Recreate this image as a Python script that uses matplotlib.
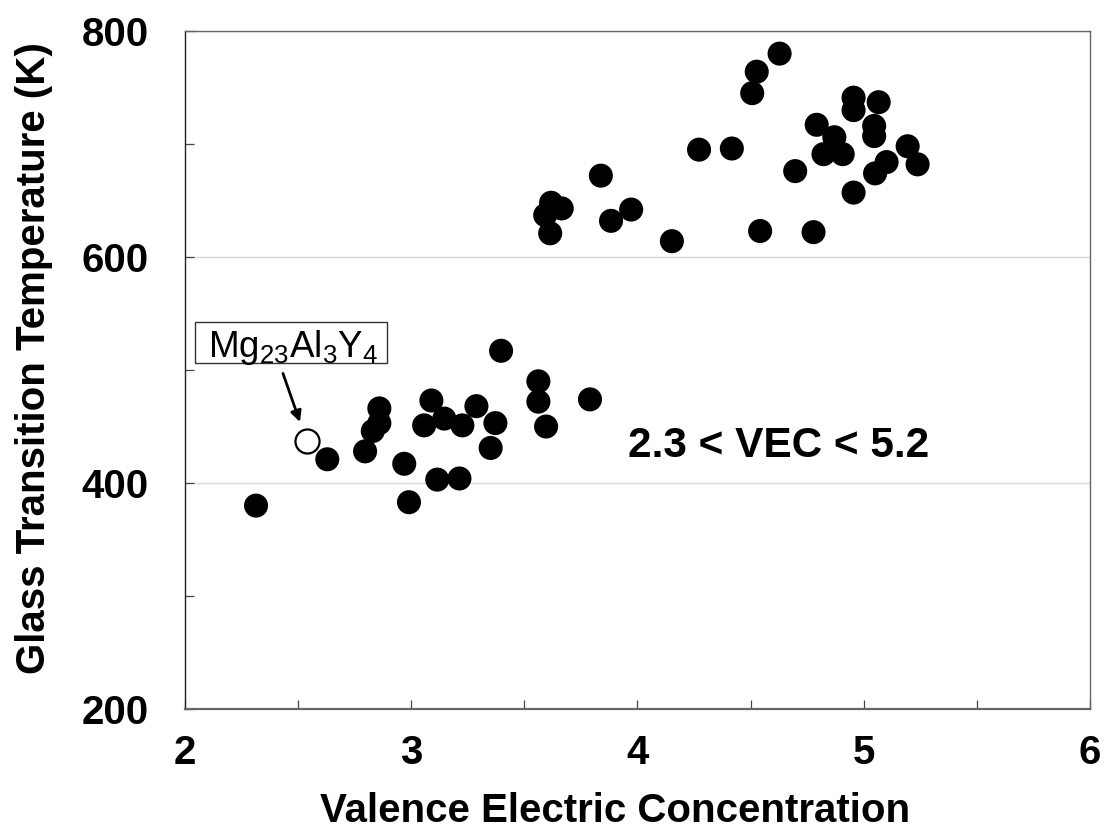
import matplotlib
matplotlib.use("Agg")
import matplotlib.pyplot as plt
from matplotlib.ticker import MultipleLocator
from matplotlib.patches import Rectangle

plt.rcParams['font.family'] = ['Liberation Sans', 'DejaVu Sans']
plt.rcParams['mathtext.default'] = 'regular'

# Filled points: valence electron concentration vs glass transition temperature (K)
vec = [2.314, 2.629, 2.796, 2.830, 2.859, 2.859, 2.969, 2.990, 3.057, 3.089,
       3.115, 3.146, 3.213, 3.226, 3.288, 3.351, 3.372, 3.397, 3.562, 3.562,
       3.596, 3.790,
       3.592, 3.618, 3.665, 3.614, 3.838, 3.883, 3.972, 4.152, 4.272, 4.417,
       4.507, 4.527, 4.628, 4.542, 4.697, 4.778, 4.792, 4.822, 4.870, 4.907,
       4.955, 4.955, 4.955, 5.046, 5.046, 5.050, 5.066, 5.101, 5.194, 5.238]
tg = [380, 421, 428, 446, 453, 466, 417, 383, 451, 473,
      403, 457, 404, 451, 468, 431, 453, 517, 490, 472,
      450, 474,
      637, 648, 643, 621, 672, 632, 642, 614, 695, 696,
      745, 764, 780, 623, 676, 622, 717, 691, 706, 691,
      741, 730, 657, 716, 707, 674, 737, 684, 698, 682]

# Highlighted alloy (open circle)
special_name = r'Mg$_{23}$Al$_{3}$Y$_{4}$'
special_vec = [2.538]
special_tg = [437]

xlim = (2, 6)
ylim = (200, 800)
range_text = '2.3 < VEC < 5.2'

fig = plt.figure(figsize=(11.06, 8.30), dpi=100)
ax = fig.add_axes([185/1106, 1 - 709/830, 905/1106, 678/830])

ax.set_xlim(*xlim)
ax.set_ylim(*ylim)

ax.yaxis.set_major_locator(MultipleLocator(200))
ax.yaxis.set_minor_locator(MultipleLocator(100))
ax.xaxis.set_major_locator(MultipleLocator(1))
ax.xaxis.set_minor_locator(MultipleLocator(0.5))

ax.grid(axis='y', which='major', color='#d9d9d9', linewidth=1.0, zorder=0)
ax.set_axisbelow(True)

ax.tick_params(axis='both', which='both', direction='in', length=6.5, width=0.9,
               color='#444444')
ax.tick_params(axis='y', which='major', pad=26, labelsize=29)
ax.tick_params(axis='x', which='major', pad=18, labelsize=29)
for lab in ax.get_xticklabels() + ax.get_yticklabels():
    lab.set_fontweight('bold')

for side in ['top', 'right']:
    ax.spines[side].set_color('#666666')
    ax.spines[side].set_linewidth(1.0)
ax.spines['left'].set_color('#222222')
ax.spines['left'].set_linewidth(1.0)
ax.spines['bottom'].set_color('#666666')
ax.spines['bottom'].set_linewidth(1.6)

ax.scatter(vec, tg, s=300, c='black', edgecolors='none', zorder=3)
ax.scatter(special_vec, special_tg, s=300, facecolors='white',
           edgecolors='black', linewidths=1.6, zorder=3)

ax.set_xlabel('Valence Electric Concentration', fontsize=29, fontweight='bold')
ax.set_ylabel('Glass Transition Temperature (K)', fontsize=29, fontweight='bold')
ax.xaxis.set_label_coords(0.475, -0.122)
ax.yaxis.set_label_coords(-0.146, 0.518)

ax.text(3.958, 433, range_text, fontsize=30.5, fontweight='bold',
        ha='left', va='center', zorder=4)

# label box for the highlighted alloy
ax.add_patch(Rectangle((2.044, 506.2), 0.849, 36.3, facecolor='white',
                       edgecolor='#333333', linewidth=1.0, zorder=4))
ax.text(2.100, 511.5, special_name, fontsize=26.5, ha='left', va='baseline',
        zorder=5)
ax.annotate('', xy=(2.508, 454), xytext=(2.433, 497),
            arrowprops=dict(arrowstyle='-|>', color='black', lw=2,
                            mutation_scale=16, shrinkA=0, shrinkB=0), zorder=4)

fig.savefig('out.png', dpi=100)
